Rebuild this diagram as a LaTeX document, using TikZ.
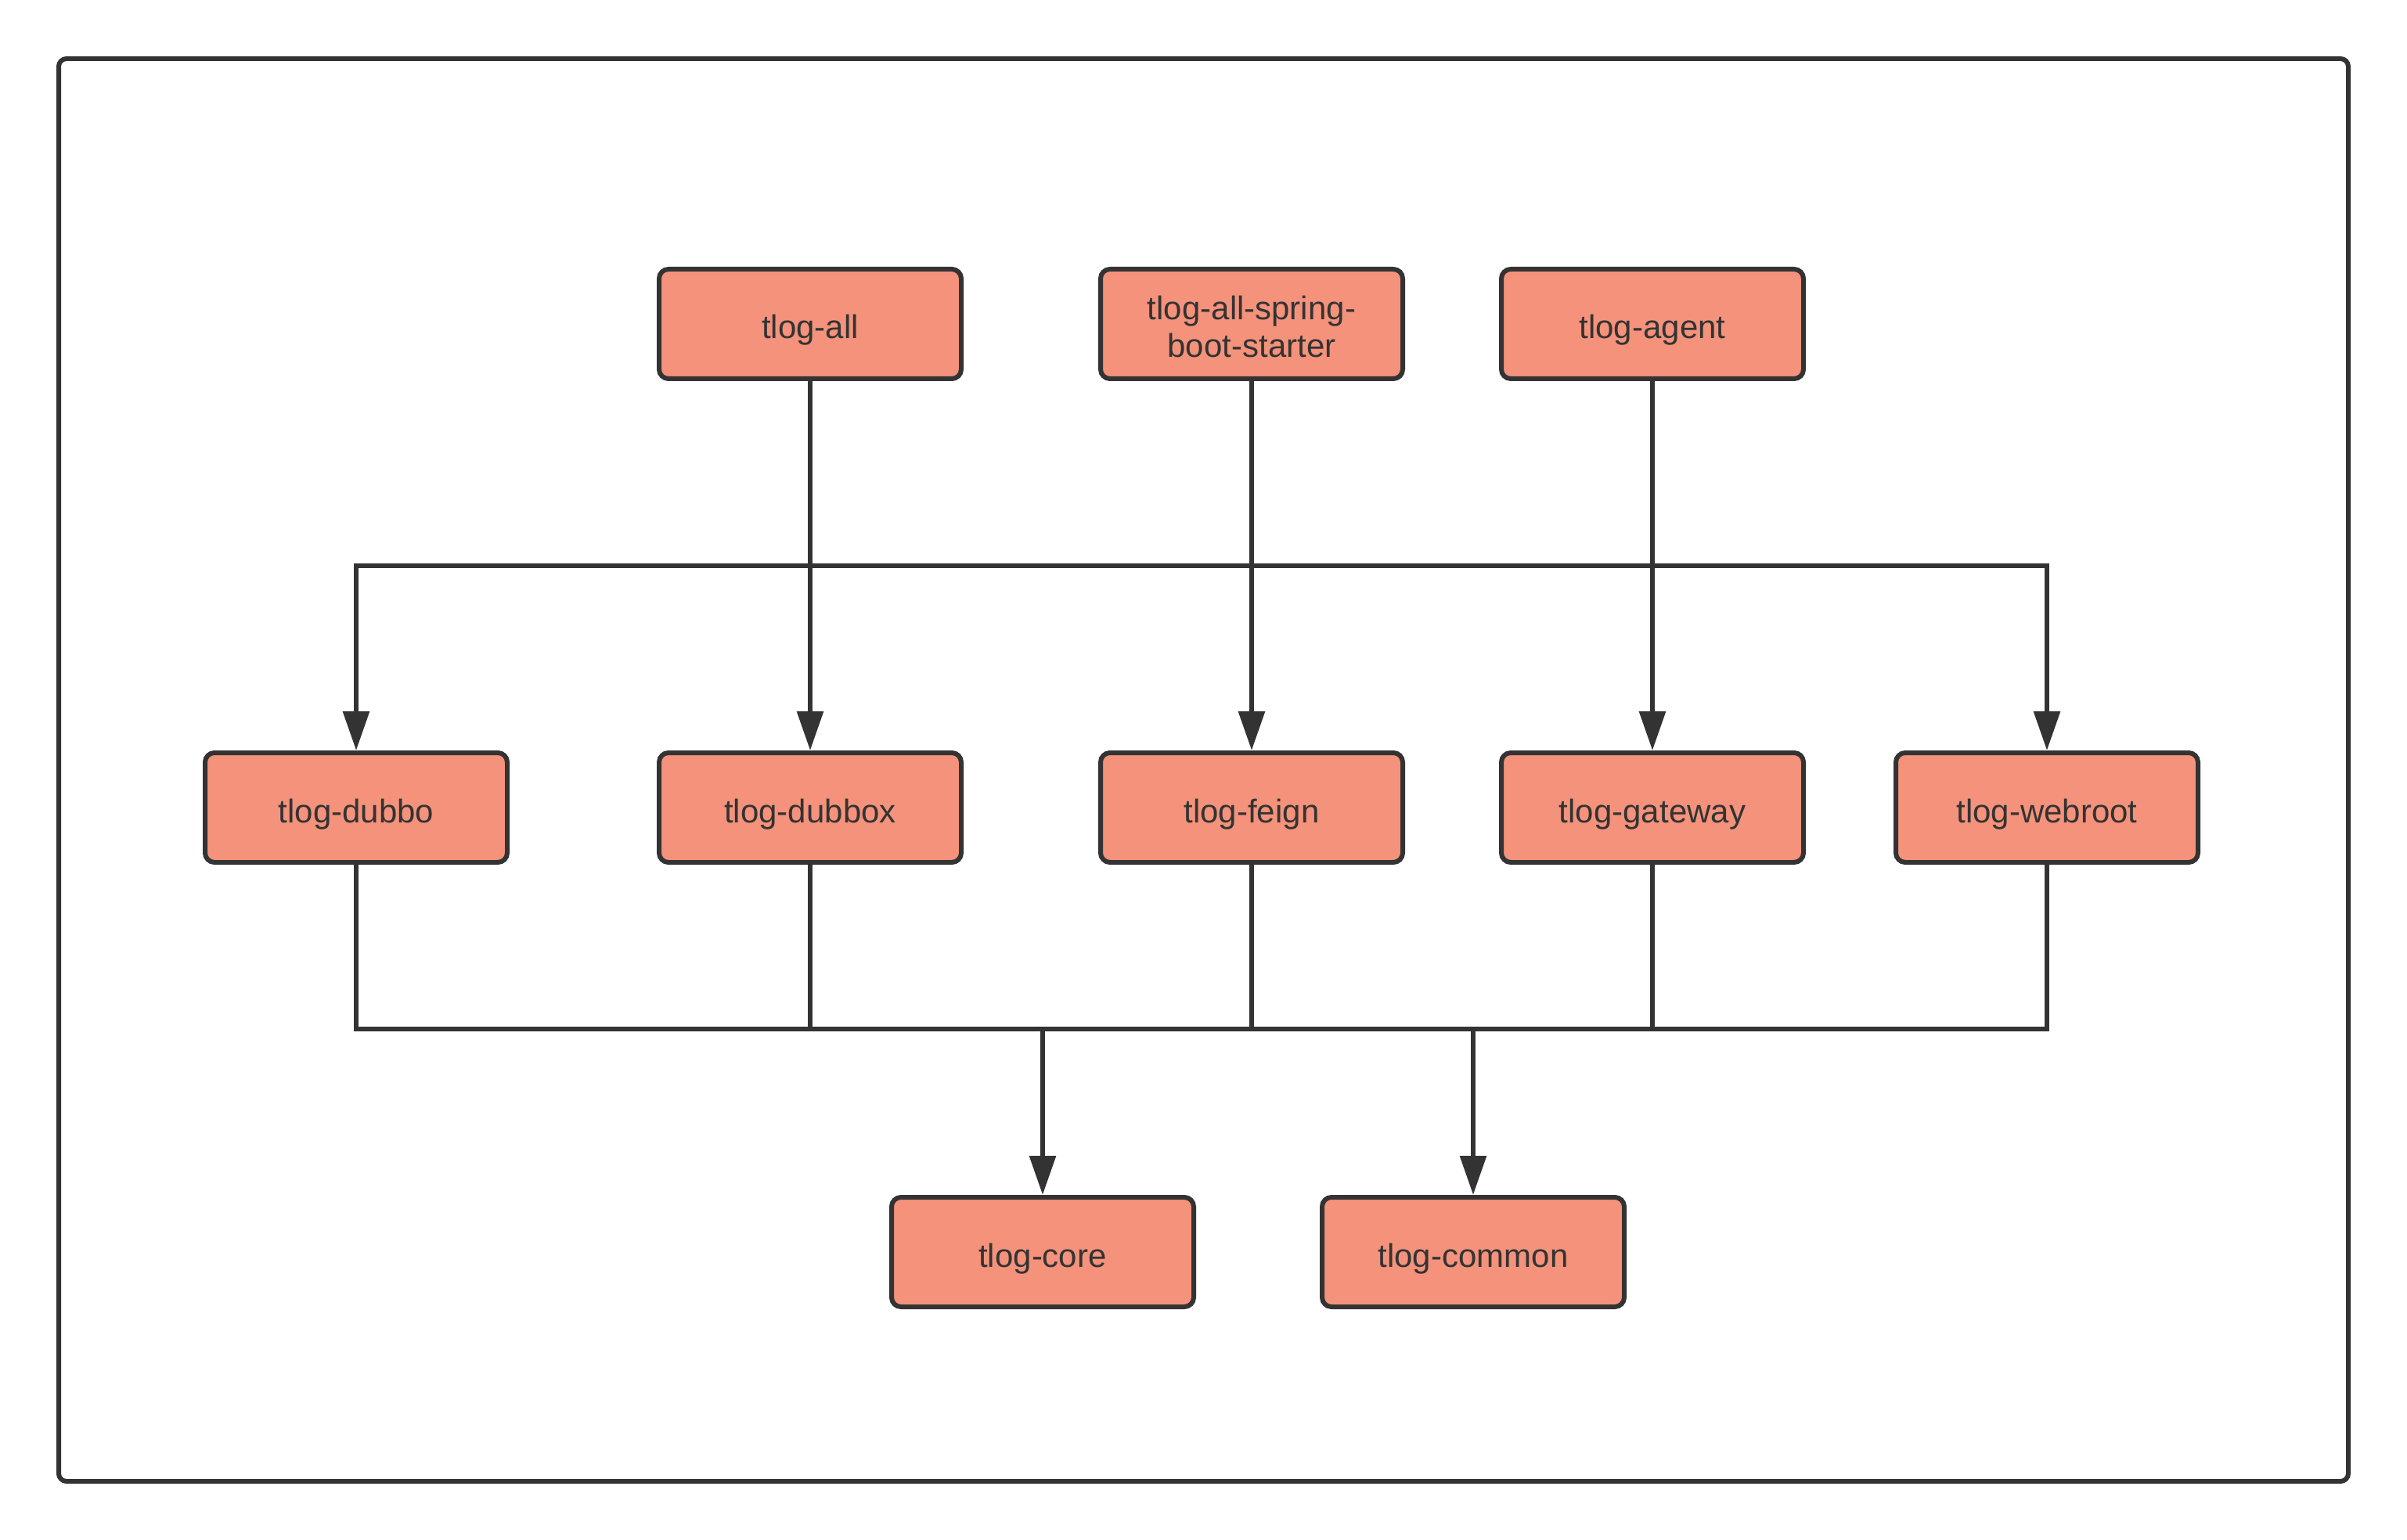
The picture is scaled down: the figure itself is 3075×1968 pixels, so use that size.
\documentclass[tikz,border=0pt]{standalone}
\usepackage{fontspec}
\setmainfont{Liberation Sans}
\usetikzlibrary{arrows.meta}
\definecolor{ink}{HTML}{333333}
\definecolor{salmon}{HTML}{F4927B}
\tikzset{
  modbox/.style={draw=ink, fill=salmon, line width=3pt, rounded corners=6pt,
    minimum width=193pt, minimum height=70pt, inner sep=0pt, align=center,
    text=ink, font=\fontsize{21}{24}\selectfont,
    text height=19pt, text depth=0pt},
  twoline/.style={text height=43pt, text depth=0pt},
  conn/.style={draw=ink, line width=3pt},
  arr/.style={conn, -{Triangle[length=25pt,width=16.5pt]}},
  frame/.style={draw=ink, line width=3pt, rounded corners=5pt}
}
\begin{document}
\begin{tikzpicture}[x=0.5pt, y=-0.5pt]
\useasboundingbox (0,0) rectangle (3075,1968);
\draw[frame] (75,75) rectangle (3000,1893);
% top row
\node[modbox] (all) at (1035,414) {tlog-all};
\node[modbox, twoline] (spring) at (1599,414) {tlog-all-spring-\\boot-starter};
\node[modbox] (agent) at (2111,414) {tlog-agent};
% middle row
\node[modbox] (dubbo) at (455,1032) {tlog-dubbo};
\node[modbox] (dubbox) at (1035,1032) {tlog-dubbox};
\node[modbox] (feign) at (1599,1032) {tlog-feign};
\node[modbox] (gateway) at (2111,1032) {tlog-gateway};
\node[modbox] (webroot) at (2615,1032) {tlog-webroot};
% bottom row
\node[modbox] (core) at (1332,1600) {tlog-core};
\node[modbox] (common) at (1882,1600) {tlog-common};
% bus levels
\coordinate (busA) at (0,723);
\coordinate (busB) at (0,1315);
% upper connectors
\draw[arr] (all.south) -- (dubbox.north);
\draw[arr] (spring.south) -- (feign.north);
\draw[arr] (agent.south) -- (gateway.north);
\draw[conn] (all.south |- busA) -- (agent.south |- busA);
\draw[arr] (all.south |- busA) -| (dubbo.north);
\draw[arr] (agent.south |- busA) -| (webroot.north);
% lower connectors
\draw[conn] (dubbo.south) |- (webroot.south |- busB) -- (webroot.south);
\draw[conn] (dubbox.south) -- (dubbox.south |- busB);
\draw[conn] (feign.south) -- (feign.south |- busB);
\draw[conn] (gateway.south) -- (gateway.south |- busB);
\draw[arr] (core.north |- busB) -- (core.north);
\draw[arr] (common.north |- busB) -- (common.north);
\end{tikzpicture}
\end{document}
